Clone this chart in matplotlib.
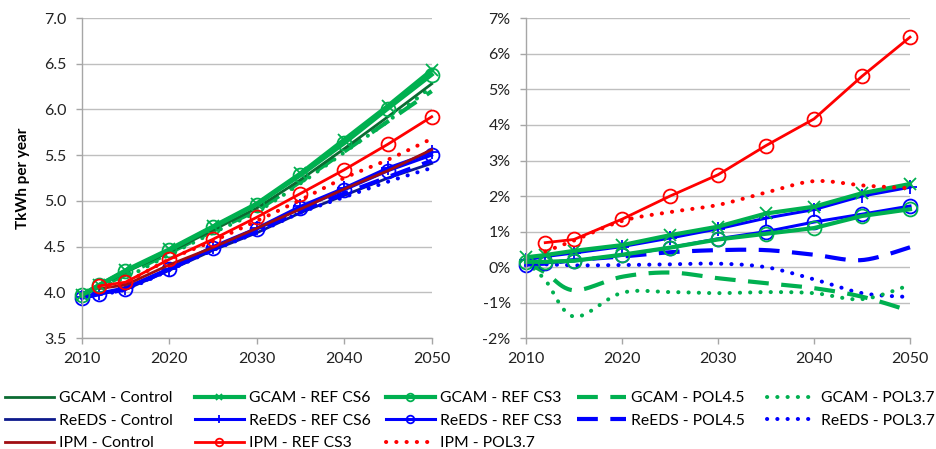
import numpy as np
import matplotlib
matplotlib.use("Agg")
import matplotlib.pyplot as plt
from matplotlib.lines import Line2D
from matplotlib.ticker import FuncFormatter

plt.rcParams['font.family'] = ['Lato', 'DejaVu Sans']

years = [2010, 2012, 2015, 2020, 2025, 2030, 2035, 2040, 2045, 2050]
ipm_years = [2012, 2015, 2020, 2025, 2030, 2035, 2040, 2045, 2050]

# Electricity demand, TkWh per year
gcam_control = [3.96, 4.07, 4.22, 4.44, 4.68, 4.92, 5.23, 5.57, 5.92, 6.28]
gcam_ref_cs6 = [3.97, 4.08, 4.24, 4.47, 4.72, 4.97, 5.30, 5.67, 6.04, 6.43]
gcam_ref_cs3 = [3.97, 4.08, 4.23, 4.46, 4.71, 4.96, 5.28, 5.63, 6.01, 6.38]
gcam_pol45 = [3.97, 4.06, 4.19, 4.43, 4.67, 4.90, 5.21, 5.54, 5.87, 6.20]
gcam_pol37 = [3.97, 4.06, 4.16, 4.41, 4.65, 4.88, 5.19, 5.53, 5.87, 6.25]

reeds_control = [3.94, 3.98, 4.03, 4.24, 4.46, 4.65, 4.87, 5.06, 5.25, 5.41]
reeds_ref_cs6 = [3.95, 3.99, 4.05, 4.26, 4.50, 4.70, 4.94, 5.14, 5.36, 5.53]
reeds_ref_cs3 = [3.94, 3.98, 4.04, 4.25, 4.48, 4.69, 4.92, 5.12, 5.33, 5.50]
reeds_pol45 = [3.94, 3.98, 4.04, 4.25, 4.48, 4.67, 4.89, 5.08, 5.26, 5.44]
reeds_pol37 = [3.94, 3.98, 4.03, 4.24, 4.46, 4.65, 4.87, 5.04, 5.21, 5.36]

ipm_control = [4.04, 4.08, 4.30, 4.49, 4.70, 4.91, 5.13, 5.33, 5.56]
ipm_ref_cs3 = [4.07, 4.11, 4.36, 4.58, 4.82, 5.08, 5.34, 5.62, 5.92]
ipm_pol37 = [4.06, 4.11, 4.36, 4.56, 4.78, 5.01, 5.25, 5.45, 5.68]

# Change relative to each model's control run, percent
gcam_ref_cs6_pct = [0.28, 0.34, 0.46, 0.62, 0.90, 1.14, 1.51, 1.70, 2.08, 2.34]
gcam_ref_cs3_pct = [0.15, 0.15, 0.18, 0.35, 0.55, 0.78, 0.94, 1.10, 1.44, 1.63]
gcam_pol45_pct = [0.15, -0.15, -0.65, -0.27, -0.15, -0.31, -0.45, -0.59, -0.83, -1.23]
gcam_pol37_pct = [0.15, -0.36, -1.39, -0.72, -0.70, -0.73, -0.70, -0.73, -0.90, -0.50]

reeds_ref_cs6_pct = [0.20, 0.30, 0.40, 0.58, 0.82, 1.08, 1.38, 1.62, 2.00, 2.25]
reeds_ref_cs3_pct = [0.05, 0.12, 0.18, 0.33, 0.55, 0.80, 1.00, 1.27, 1.49, 1.72]
reeds_pol45_pct = [0.10, 0.10, 0.20, 0.30, 0.42, 0.48, 0.48, 0.35, 0.20, 0.56]
reeds_pol37_pct = [0.05, 0.08, 0.05, 0.06, 0.08, 0.10, 0.00, -0.34, -0.73, -0.84]

ipm_ref_cs3_pct = [0.69, 0.78, 1.35, 2.00, 2.60, 3.42, 4.17, 5.37, 6.47]
ipm_pol37_pct = [0.44, 0.75, 1.30, 1.55, 1.75, 2.10, 2.42, 2.30, 2.22]

GREEN = '#00B050'
BLUE = '#0000FF'
RED = '#FF0000'
DASH = (0, (5, 3))
DOT = (0, (0.05, 2.5))

styles = {
    'GCAM - Control': dict(color='#0B6B32', lw=2.0),
    'ReEDS - Control': dict(color='#0D1A8C', lw=2.0),
    'IPM - Control': dict(color='#A00D12', lw=2.0),
    'GCAM - REF CS6': dict(color=GREEN, lw=3.0, marker='x', ms=9, mew=1.3),
    'ReEDS - REF CS6': dict(color=BLUE, lw=2.2, marker='+', ms=10, mew=1.3),
    'IPM - REF CS3': dict(color=RED, lw=2.0, marker='o', ms=10, mfc='none', mew=1.3),
    'GCAM - REF CS3': dict(color=GREEN, lw=3.0, marker='o', ms=10, mfc='none', mew=1.3),
    'ReEDS - REF CS3': dict(color=BLUE, lw=2.2, marker='o', ms=10, mfc='none', mew=1.3),
    'GCAM - POL4.5': dict(color=GREEN, lw=3.0, ls=DASH),
    'ReEDS - POL4.5': dict(color=BLUE, lw=3.0, ls=DASH),
    'GCAM - POL3.7': dict(color=GREEN, lw=2.9, ls=DOT, dash_capstyle='round'),
    'ReEDS - POL3.7': dict(color=BLUE, lw=2.9, ls=DOT, dash_capstyle='round'),
    'IPM - POL3.7': dict(color=RED, lw=2.9, ls=DOT, dash_capstyle='round'),
}

left_series = [
    ('ReEDS - Control', years, reeds_control),
    ('ReEDS - POL3.7', years, reeds_pol37),
    ('ReEDS - POL4.5', years, reeds_pol45),
    ('ReEDS - REF CS3', years, reeds_ref_cs3),
    ('ReEDS - REF CS6', years, reeds_ref_cs6),
    ('IPM - Control', ipm_years, ipm_control),
    ('GCAM - POL3.7', years, gcam_pol37),
    ('GCAM - POL4.5', years, gcam_pol45),
    ('GCAM - Control', years, gcam_control),
    ('GCAM - REF CS3', years, gcam_ref_cs3),
    ('GCAM - REF CS6', years, gcam_ref_cs6),
    ('IPM - POL3.7', ipm_years, ipm_pol37),
    ('IPM - REF CS3', ipm_years, ipm_ref_cs3),
]

right_series = [
    ('ReEDS - POL3.7', years, reeds_pol37_pct),
    ('ReEDS - POL4.5', years, reeds_pol45_pct),
    ('GCAM - POL3.7', years, gcam_pol37_pct),
    ('GCAM - POL4.5', years, gcam_pol45_pct),
    ('ReEDS - REF CS6', years, reeds_ref_cs6_pct),
    ('ReEDS - REF CS3', years, reeds_ref_cs3_pct),
    ('GCAM - REF CS3', years, gcam_ref_cs3_pct),
    ('GCAM - REF CS6', years, gcam_ref_cs6_pct),
    ('IPM - POL3.7', ipm_years, ipm_pol37_pct),
    ('IPM - REF CS3', ipm_years, ipm_ref_cs3_pct),
]


def smooth(x, y, n=24):
    """Bezier smoothing through every point, like a spreadsheet 'smoothed line'."""
    x = np.asarray(x, float)
    y = np.asarray(y, float)
    sx, sy = [x[0]], [y[0]]
    t = np.linspace(0, 1, n)[1:]
    for i in range(len(x) - 1):
        a = i - 1 if i > 0 else i
        b = i + 2 if i + 2 < len(x) else i + 1
        c1x = x[i] + (x[i + 1] - x[a]) / 6
        c1y = y[i] + (y[i + 1] - y[a]) / 6
        c2x = x[i + 1] - (x[b] - x[i]) / 6
        c2y = y[i + 1] - (y[b] - y[i]) / 6
        w0, w1, w2, w3 = (1 - t) ** 3, 3 * (1 - t) ** 2 * t, 3 * (1 - t) * t ** 2, t ** 3
        sx.extend(w0 * x[i] + w1 * c1x + w2 * c2x + w3 * x[i + 1])
        sy.extend(w0 * y[i] + w1 * c1y + w2 * c2y + w3 * y[i + 1])
    return np.array(sx), np.array(sy)


def draw(ax, name, x, y):
    st = dict(styles[name])
    if 'ls' in st and 'marker' not in st:
        sx, sy = smooth(x, y)
        ax.plot(sx, sy, clip_on=False, **st)
    else:
        ax.plot(x, y, clip_on=False, **st)


fig = plt.figure(figsize=(9.37, 4.49), dpi=100)
W, H = 937, 449


def axes_px(x0, x1, ytop, ybot):
    return fig.add_axes([x0 / W, (H - ybot) / H, (x1 - x0) / W, (ybot - ytop) / H])


GRID = '#BFBFBF'
SPINE = '#A6A6A6'


def style_axes(ax):
    for s in ('top', 'right'):
        ax.spines[s].set_visible(False)
    for s in ('left', 'bottom'):
        ax.spines[s].set_color(SPINE)
        ax.spines[s].set_linewidth(1.0)
    ax.yaxis.grid(True, color=GRID, lw=1.0)
    ax.set_axisbelow(True)
    ax.tick_params(axis='both', length=4, width=1.0, color=SPINE,
                   labelsize=11.5, labelcolor='#222222')
    ax.tick_params(axis='y', pad=7)
    ax.tick_params(axis='x', pad=6)
    ax.set_xlim(2010, 2050)
    ax.set_xticks([2010, 2020, 2030, 2040, 2050])


axL = axes_px(81.7, 431.7, 18, 338)
style_axes(axL)
axL.set_ylim(3.5, 7.0)
axL.set_yticks(np.arange(3.5, 7.01, 0.5))
axL.yaxis.set_major_formatter(FuncFormatter(lambda v, p: f"{v:.1f}"))
axL.set_ylabel('TkWh per year', fontsize=11, fontweight='bold', labelpad=10)
for name, x, y in left_series:
    draw(axL, name, x, y)

axR = axes_px(526, 910, 18.3, 338.3)
style_axes(axR)
axR.set_ylim(-2, 7)
axR.set_yticks(np.arange(-2, 8, 1))
axR.yaxis.set_major_formatter(FuncFormatter(lambda v, p: f"{int(round(v))}%"))
for name, x, y in right_series:
    draw(axR, name, x, y)

# Legend: five columns, placed at fixed horizontal positions
columns = [
    (5, ['GCAM - Control', 'ReEDS - Control', 'IPM - Control']),
    (195, ['GCAM - REF CS6', 'ReEDS - REF CS6', 'IPM - REF CS3']),
    (386, ['GCAM - REF CS3', 'ReEDS - REF CS3', 'IPM - POL3.7']),
    (577, ['GCAM - POL4.5', 'ReEDS - POL4.5']),
    (767, ['GCAM - POL3.7', 'ReEDS - POL3.7']),
]
for x0, names in columns:
    handles = []
    for nm in names:
        st = dict(styles[nm])
        if 'ms' in st:
            st['ms'] = st['ms'] * 0.55
        handles.append(Line2D([], [], **st))
    fig.legend(handles, names, loc='upper left', bbox_to_anchor=(x0 / W, (H - 391) / H),
               frameon=False, fontsize=11.3, handlelength=3.1, handletextpad=0.35,
               labelspacing=0.55, borderpad=0, borderaxespad=0, numpoints=1)

fig.savefig('out.png', dpi=100)
